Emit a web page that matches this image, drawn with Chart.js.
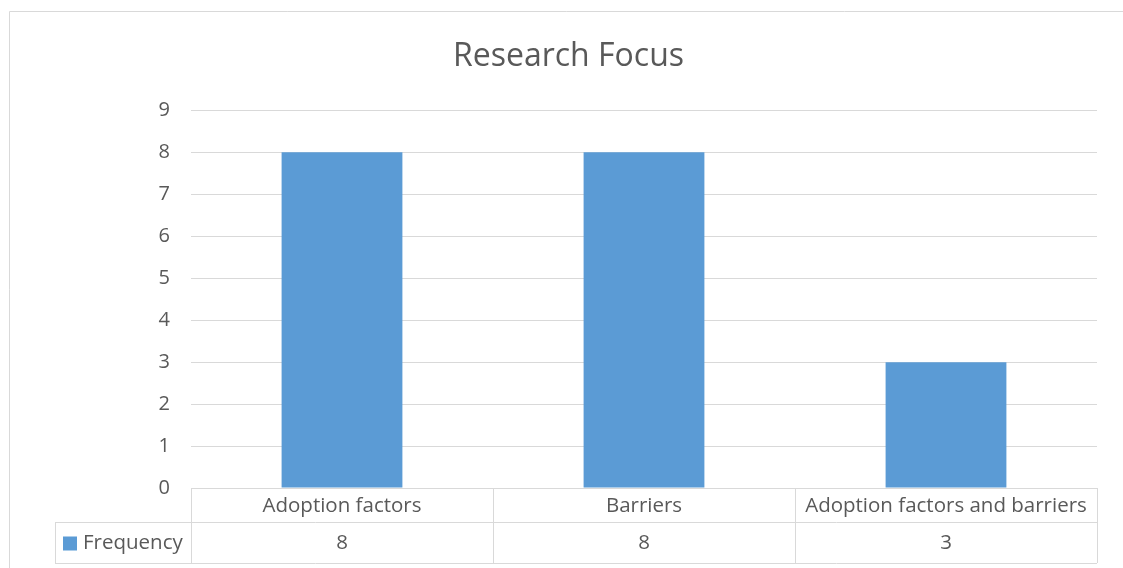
<!DOCTYPE html>
<html>
<head>
<meta charset="utf-8">
<script src="https://cdn.jsdelivr.net/npm/chart.js@4.4.1/dist/chart.umd.min.js"></script>
<style>
  html, body { margin: 0; padding: 0; background: #fff; }
  #wrap { width: 1123px; height: 568px; position: relative; }
</style>
</head>
<body>
<div id="wrap"><canvas id="grafico"></canvas></div>
<script>
// ── DATOS ───────────────────────────────────────────────
const categorias = ['Adoption factors', 'Barriers', 'Adoption factors and barriers'];
const frecuencias = [8, 8, 3];
const nombreSerie = 'Frequency';
const titulo = 'Research Focus';
const ejeMin = 0;
const ejeMax = 9;
const ejePaso = 1;

const azul = '#5b9bd5';
const gris = '#d9d9d9';
const texto = '#595959';
const fuente = "'Open Sans', sans-serif";

// ── BORDE EXTERIOR ──────────────────────────────────────
const bordeExterior = {
  id: 'bordeExterior',
  beforeDraw(chart) {
    const ctx = chart.ctx;
    ctx.save();
    ctx.strokeStyle = gris;
    ctx.lineWidth = 1;
    ctx.beginPath();
    ctx.moveTo(9.5, chart.height);
    ctx.lineTo(9.5, 11.5);
    ctx.lineTo(chart.width, 11.5);
    ctx.stroke();
    ctx.restore();
  }
};

// ── TABLA DE DATOS BAJO EL EJE ──────────────────────────
const tablaDatos = {
  id: 'tablaDatos',
  afterDraw(chart) {
    const ctx = chart.ctx;
    const x = chart.scales.x;
    const area = chart.chartArea;
    const ancho = (area.right - area.left) / categorias.length;
    const y0 = area.bottom;
    const y1 = y0 + 34;
    const y2 = y1 + 41;
    const izqLeyenda = 55;

    ctx.save();
    ctx.strokeStyle = gris;
    ctx.lineWidth = 1;
    ctx.beginPath();
    // lineas horizontales
    ctx.moveTo(area.left, y0 + 0.5); ctx.lineTo(area.right, y0 + 0.5);
    ctx.moveTo(izqLeyenda, y1 + 0.5); ctx.lineTo(area.right, y1 + 0.5);
    ctx.moveTo(izqLeyenda, y2 + 0.5); ctx.lineTo(area.right, y2 + 0.5);
    // lineas verticales
    ctx.moveTo(izqLeyenda + 0.5, y1); ctx.lineTo(izqLeyenda + 0.5, y2);
    for (let i = 0; i <= categorias.length; i++) {
      const px = Math.round(area.left + i * ancho) + 0.5;
      ctx.moveTo(px, y0); ctx.lineTo(px, y2);
    }
    ctx.stroke();

    ctx.fillStyle = texto;
    ctx.font = '20.5px ' + fuente;
    ctx.textAlign = 'center';
    ctx.textBaseline = 'middle';
    categorias.forEach((c, i) => {
      const cx = x.getPixelForValue(i);
      ctx.fillText(c, cx, (y0 + y1) / 2 + 1);
      ctx.fillText(String(frecuencias[i]), cx, (y1 + y2) / 2 + 1);
    });

    // leyenda
    ctx.fillStyle = azul;
    ctx.fillRect(63, (y1 + y2) / 2 - 6, 14, 14);
    ctx.fillStyle = texto;
    ctx.textAlign = 'left';
    ctx.fillText(nombreSerie, 83, (y1 + y2) / 2 + 1);
    ctx.restore();
  }
};

// ── GRAFICO ─────────────────────────────────────────────
new Chart(document.getElementById('grafico').getContext('2d'), {
  type: 'bar',
  data: {
    labels: categorias,
    datasets: [{
      label: nombreSerie,
      data: frecuencias,
      backgroundColor: azul,
      borderWidth: 0,
      categoryPercentage: 1,
      barPercentage: 0.4
    }]
  },
  options: {
    responsive: true,
    maintainAspectRatio: false,
    animation: false,
    layout: { padding: { left: 40, right: 26, top: 0, bottom: 80 } },
    plugins: {
      legend: { display: false },
      tooltip: { enabled: false },
      title: {
        display: true,
        text: titulo,
        color: texto,
        font: { family: fuente, size: 32, weight: 'normal' },
        padding: { top: 38, bottom: 34 }
      }
    },
    scales: {
      x: { display: false },
      y: {
        min: ejeMin,
        max: ejeMax,
        afterFit(s) { s.width = 151; },
        border: { display: false },
        grid: { color: gris, lineWidth: 1, tickLength: 0 },
        ticks: {
          stepSize: ejePaso,
          color: texto,
          padding: 21,
          font: { family: fuente, size: 20 }
        }
      }
    }
  },
  plugins: [bordeExterior, tablaDatos]
});
</script>
</body>
</html>
